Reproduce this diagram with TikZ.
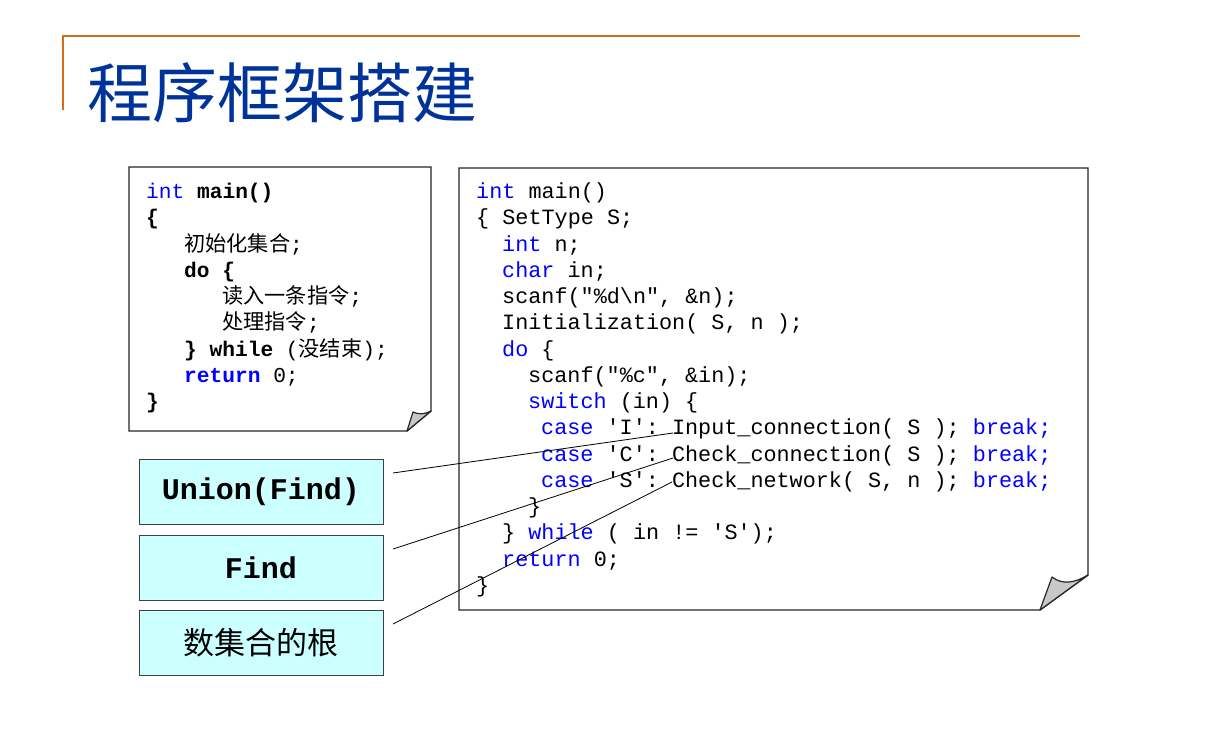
\documentclass[tikz,border=0pt]{standalone}
\usepackage{fontspec}
\setmainfont{Liberation Serif}
\setmonofont{Liberation Mono}
\newfontfamily\cjk{Noto Sans CJK SC}
\definecolor{kw}{RGB}{0,0,255}
\definecolor{titleblue}{RGB}{0,51,153}
\definecolor{rulec}{RGB}{208,110,30}
\definecolor{cyanbox}{RGB}{204,255,255}
\definecolor{foldgray}{RGB}{200,200,200}
\tikzset{
  codeR/.style={anchor=base west, inner sep=0pt, font=\fontsize{21.8}{26}\selectfont\ttfamily},
  codeL/.style={anchor=base west, inner sep=0pt, font=\fontsize{21.2}{26}\selectfont\ttfamily},
  paper/.style={draw=black!85, line width=1.4pt, fill=white, line join=miter},
  fold/.style={draw=black!85, line width=1.2pt, fill=foldgray, line join=round},
  labelbox/.style={draw=black!75, line width=0.9pt, fill=cyanbox, minimum width=244pt, minimum height=65pt, inner sep=0pt},
  conn/.style={draw=black, line width=0.8pt}
}
\newcommand{\kwd}[1]{\textcolor{kw}{#1}}
\begin{document}
\begin{tikzpicture}[x=1pt,y=-1pt]
\useasboundingbox (0,0) rectangle (1222,730);
\fill[white] (0,0) rectangle (1222,730);
% header rule
\draw[rulec, line width=2pt] (63,110) -- (63,36) -- (1080,36);
\node[inner sep=0pt, text=titleblue, font=\fontsize{65}{70}\selectfont\cjk] (title) at (282,93) {程序框架搭建};

% left paper
\path[paper] (129,167) -- (431,167) -- (431,411) -- (407,431) -- (129,431) -- cycle;
\path[fold] (407,431) -- (413,412) .. controls (420,415) and (425,414) .. (431,411) -- cycle;

\node[codeL] (l0) at (146,198.5) {\kwd{int} \textbf{main()}};
\node[codeL] (l1) at (146,224.75) {\textbf{\{}};
\node[codeL] (l2) at (184,251) {{\cjk 初始化集合};};
\node[codeL] (l3) at (184,277.25) {\textbf{do \{}};
\node[codeL] (l4) at (222,303.5) {{\cjk 读入一条指令};};
\node[codeL] (l5) at (222,329.75) {{\cjk 处理指令};};
\node[codeL] (l6) at (184,356) {\textbf{\} while} ({\cjk 没结束});};
\node[codeL] (l7) at (184,382.25) {\kwd{\textbf{return}} 0;};
\node[codeL] (l8) at (146,408.5) {\textbf{\}}};

% right paper
\path[paper] (459,168) -- (1088,168) -- (1088,575) -- (1040,610) -- (459,610) -- cycle;
\path[fold] (1040,610) -- (1052,577) .. controls (1062,585) and (1075,583) .. (1088,575) -- cycle;

\node[codeR] (r0) at (476,198.5) {\kwd{int} main()};
\node[codeR] (r1) at (476,224.75) {\{ SetType S;};
\node[codeR] (r2) at (502,251) {\kwd{int} n;};
\node[codeR] (r3) at (502,277.25) {\kwd{char} in;};
\node[codeR] (r4) at (502,303.5) {scanf("\%d\textbackslash n", \&n);};
\node[codeR] (r5) at (502,329.75) {Initialization( S, n );};
\node[codeR] (r6) at (502,356) {\kwd{do} \{};
\node[codeR] (r7) at (528,382.25) {scanf("\%c", \&in);};
\node[codeR] (r8) at (528,408.5) {\kwd{switch} (in) \{};
\node[codeR] (r9) at (541,434.75) {\kwd{case} 'I': Input\_connection( S ); \kwd{break;}};
\node[codeR] (r10) at (541,461) {\kwd{case} 'C': Check\_connection( S ); \kwd{break;}};
\node[codeR] (r11) at (541,487.25) {\kwd{case} 'S': Check\_network( S, n ); \kwd{break;}};
\node[codeR] (r12) at (528,513.5) {\}};
\node[codeR] (r13) at (502,539.75) {\} \kwd{while} ( in != 'S');};
\node[codeR] (r14) at (502,566) {\kwd{return} 0;};
\node[codeR] (r15) at (476,592.25) {\}};

% label boxes
\node[labelbox, font=\fontsize{30}{32}\selectfont\ttfamily\bfseries] (u) at (261,492) {Union(Find)};
\node[labelbox, font=\fontsize{30}{32}\selectfont\ttfamily\bfseries] (f) at (261,567.5) {Find};
\node[labelbox, font=\fontsize{31}{33}\selectfont\cjk] (g) at (261,642.5) {数集合的根};

% connectors
\coordinate (s1) at (393,473);
\coordinate (s2) at (393,549);
\coordinate (s3) at (393,624);
\coordinate (e1) at (673,433);
\coordinate (e2) at (673,458);
\coordinate (e3) at (672,482);
\draw[conn] (s1) -- (e1);
\draw[conn] (s2) -- (e2);
\draw[conn] (s3) -- (e3);
\end{tikzpicture}
\end{document}
